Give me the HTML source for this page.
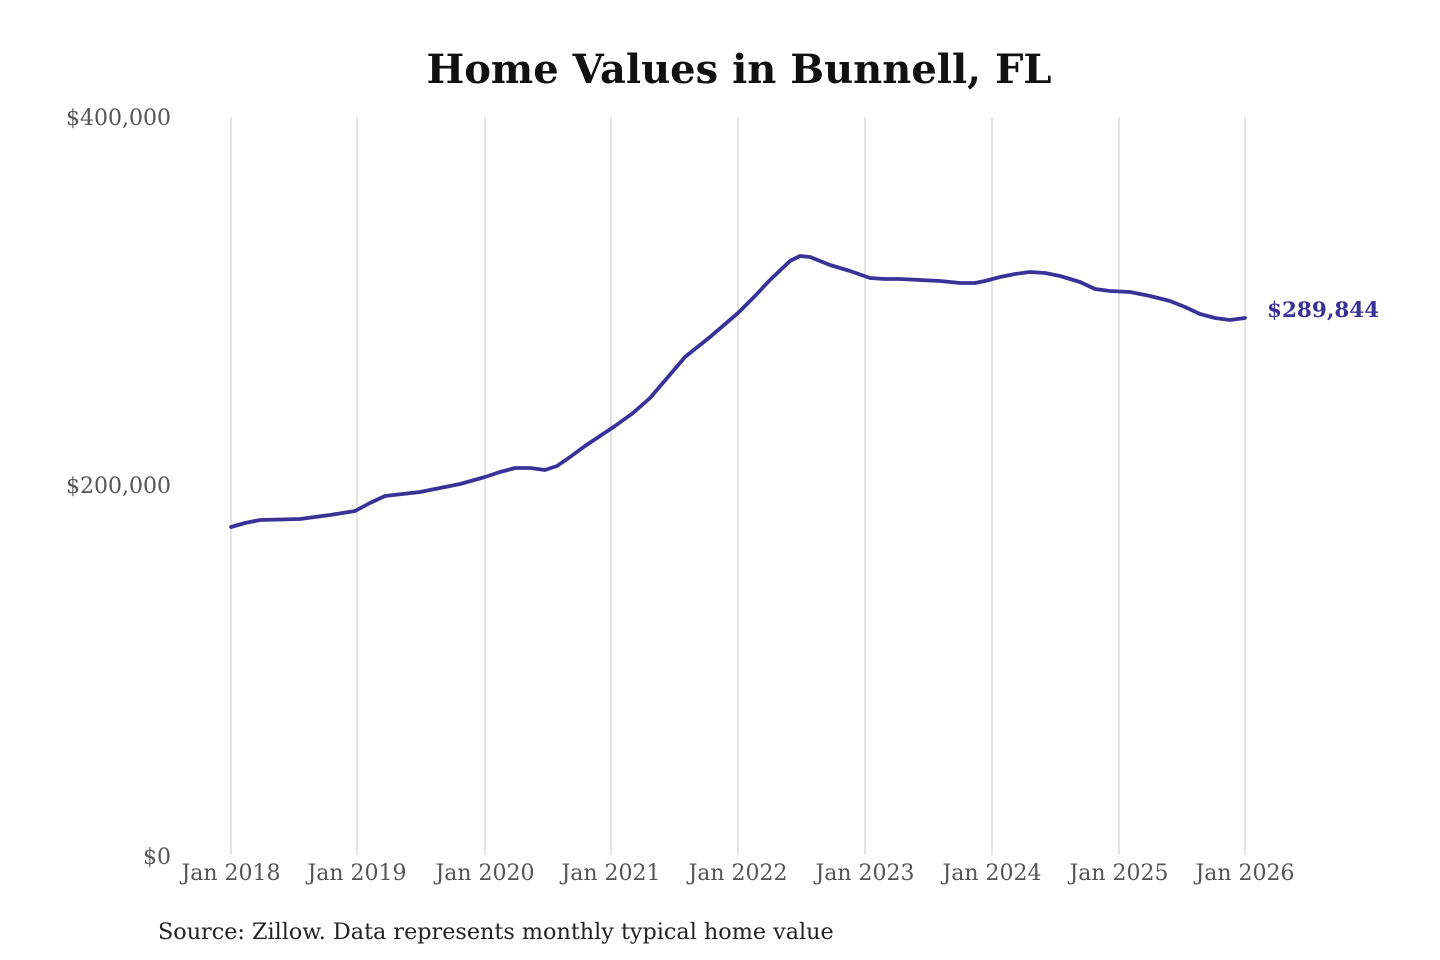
<!DOCTYPE html>
<html><head><meta charset="utf-8"><style>
html,body{margin:0;padding:0;background:#fff;}
svg{display:block;}
</style></head><body>
<svg width="1440" height="960" viewBox="0 0 1440 960" xmlns="http://www.w3.org/2000/svg" font-family="DejaVu Serif, Liberation Serif, serif">
<text x="739" y="83" text-anchor="middle" font-size="40" font-weight="bold" fill="#111">Home Values in Bunnell, FL</text>
<g stroke="#cfcfcf" stroke-width="1.1">
<line x1="231" y1="117" x2="231" y2="855"/>
<line x1="357" y1="117" x2="357" y2="855"/>
<line x1="485" y1="117" x2="485" y2="855"/>
<line x1="611" y1="117" x2="611" y2="855"/>
<line x1="738" y1="117" x2="738" y2="855"/>
<line x1="865" y1="117" x2="865" y2="855"/>
<line x1="992" y1="117" x2="992" y2="855"/>
<line x1="1119" y1="117" x2="1119" y2="855"/>
<line x1="1245" y1="117" x2="1245" y2="855"/>
</g>
<g font-size="22" fill="#555" text-anchor="end">
<text x="171" y="125">$400,000</text>
<text x="171" y="493">$200,000</text>
<text x="171" y="864">$0</text>
</g>
<g font-size="22" fill="#555" text-anchor="middle">
<text x="231" y="880">Jan 2018</text>
<text x="357" y="880">Jan 2019</text>
<text x="485" y="880">Jan 2020</text>
<text x="611" y="880">Jan 2021</text>
<text x="738" y="880">Jan 2022</text>
<text x="865" y="880">Jan 2023</text>
<text x="992" y="880">Jan 2024</text>
<text x="1119" y="880">Jan 2025</text>
<text x="1245" y="880">Jan 2026</text>
</g>
<polyline fill="none" stroke="#3b3297" stroke-width="3.8" stroke-linejoin="round" stroke-linecap="round"
points="231,527 245,523 260,520 300,519 330,515 355,511 370,503 385,496 420,492 460,484 485,477 500,472 515,468 530,468 545,470 557,466 570,457 585,446 600,436 615,426 633,413 650,398 668,377 685,357 710,337 738,313 755,296 770,280 790,261 800,256 810,257 830,265 850,271 870,278 885,279 900,279 940,281 960,283 975,283 985,281 1000,277 1015,274 1030,272 1045,273 1060,276 1080,282 1095,289 1110,291 1130,292 1150,296 1170,301 1185,307 1200,314 1215,318 1230,320 1245,318"/>
<text x="1267" y="317" font-size="21.5" font-weight="bold" fill="#3b3297">$289,844</text>
<text x="158" y="939" font-size="22.3" fill="#222">Source: Zillow. Data represents monthly typical home value</text>
</svg>
</body></html>
